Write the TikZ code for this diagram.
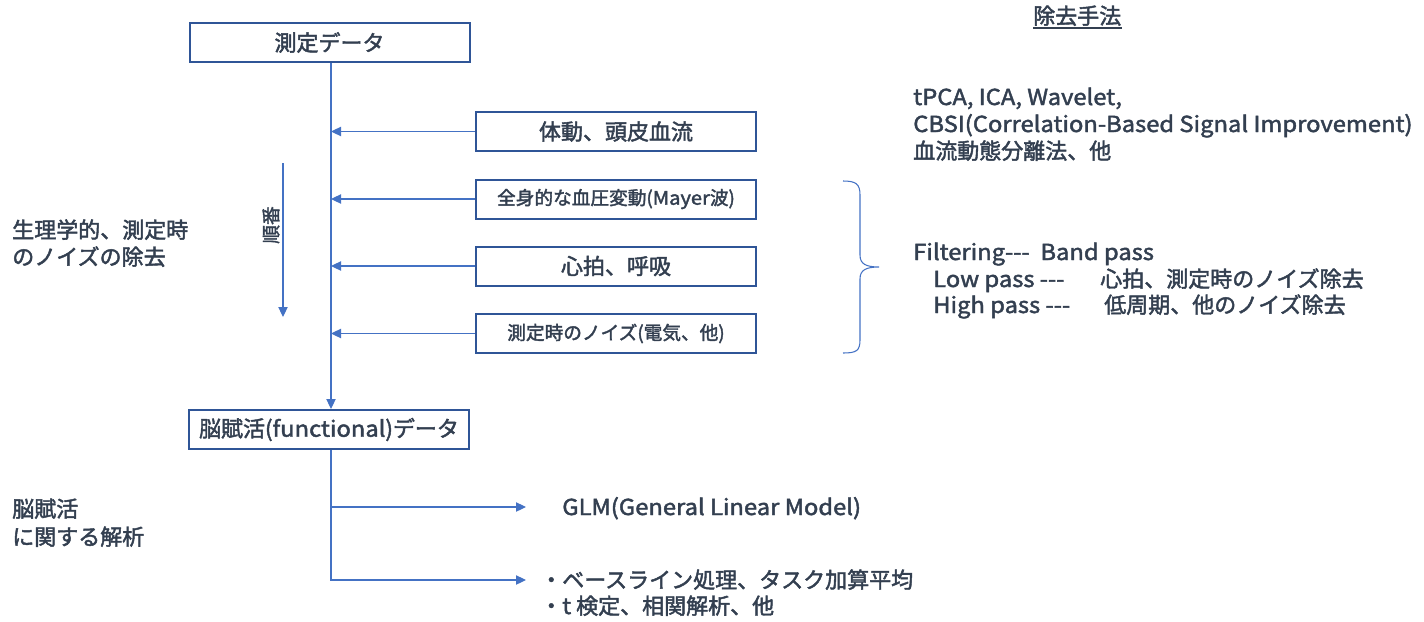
\documentclass[tikz,border=0pt]{standalone}
\usepackage{fontspec}
\setmainfont{Noto Sans CJK JP}[FakeBold=2]
\newfontfamily\latf{Noto Sans CJK JP}[FakeBold=2, FakeStretch=1.08]
\usetikzlibrary{arrows.meta}
\definecolor{txt}{HTML}{333F50}
\definecolor{boxc}{HTML}{2F5597}
\definecolor{linec}{HTML}{4472C4}
\newcommand{\tdash}{-\kern0pt-\kern0pt-}
\begin{document}
\begin{tikzpicture}[x=0.75pt,y=-0.75pt,
  font=\fontsize{16.5}{20}\selectfont, text=txt,
  box/.style={draw=boxc, line width=1.5pt, minimum width=210pt, minimum height=29.25pt, inner sep=0pt, fill=white},
  smallbox/.style={box, font=\fontsize{14}{16}\selectfont},
  conn/.style={draw=linec, line width=0.8pt},
  arr/.style={conn, -{Triangle[length=7.5pt,width=7pt]}},
  lbl/.style={anchor=base west, inner sep=0pt}]
\useasboundingbox (0,0) rectangle (1424,621);

% boxes
\node[box] (top) at (329.5,42.5) {測定データ};
\node[box] (b1) at (616,131.5) {体動、頭皮血流};
\node[smallbox] (b2) at (616,199) {全身的な血圧変動({\latf Mayer}波)};
\node[box] (b3) at (616,266) {心拍、呼吸};
\node[smallbox] (b4) at (616,333.5) {測定時のノイズ(電気、他)};
\node[box] (bot) at (329,429.5) {脳賦活({\latf functional})データ};

% spine
\coordinate (sp) at (331,0);
\draw[arr] (top.south -| sp) -- (bot.north -| sp);
\draw[arr] (b1.west) -- (b1.west -| sp);
\draw[arr] (b2.west) -- (b2.west -| sp);
\draw[arr] (b3.west) -- (b3.west -| sp);
\draw[arr] (b4.west) -- (b4.west -| sp);

% order arrow
\node[rotate=90, font=\fontsize{14}{14}\selectfont, inner sep=0pt] (jun) at (271,225) {順番};
\coordinate (o1) at (283,163);
\coordinate (o2) at (283,317);
\draw[arr] (o1) -- (o2);

% left labels
\node[lbl] (l1) at (12,238) {生理学的、測定時};
\node[lbl] (l2) at (12,265) {のノイズの除去};
\node[lbl] (l3) at (12,517) {脳賦活};
\node[lbl] (l4) at (12,545) {に関する解析};

% analysis branches
\coordinate (g1) at (526,507);
\coordinate (g2) at (526,580);
\draw[arr] (bot.south -| sp) |- (g2);
\draw[arr] (sp |- g1) -- (g1);
\node[lbl, font=\latf\fontsize{16.5}{20}\selectfont] (glm) at (562,515) {GLM(General Linear Model)};
\node[lbl] (r1) at (540,588) {・ベースライン処理、タスク加算平均};
\node[lbl] (r2) at (540,614) {・{\latf t} 検定、相関解析、他};

% right: methods
\node[lbl] (jt) at (1033,24) {除去手法};
\draw[txt, line width=0.8pt] ([yshift=-3pt]jt.base west) -- ([yshift=-3pt]jt.base east);
\node[lbl, font=\latf\fontsize{16.5}{20}\selectfont] (m1) at (913,105) {tPCA, ICA, Wavelet,};
\node[lbl, font=\latf\fontsize{16.5}{20}\selectfont] (m2) at (913,132) {CBSI(Correlation-Based Signal Improvement)};
\node[lbl] (m3) at (913,159) {血流動態分離法、他};

\node[lbl, font=\latf\fontsize{16.5}{20}\selectfont] (f1) at (913,260) {Filtering\tdash\ \ Band pass};
\node[lbl, font=\latf\fontsize{16.5}{20}\selectfont] (f2) at (933,287) {Low pass \tdash};
\node[lbl] (f2b) at (1100,287) {心拍、測定時のノイズ除去};
\node[lbl, font=\latf\fontsize{16.5}{20}\selectfont] (f3) at (933,313) {High pass \tdash};
\node[lbl] (f3b) at (1104,313) {低周期、他のノイズ除去};

% brace
\draw[conn] (843,181) .. controls (856,181) and (860,184) .. (860,195)
  -- (860,255) .. controls (860,264) and (866,267) .. (879,267)
  .. controls (866,267) and (860,270) .. (860,279)
  -- (860,340) .. controls (860,351) and (856,353) .. (843,353);
\end{tikzpicture}
\end{document}
